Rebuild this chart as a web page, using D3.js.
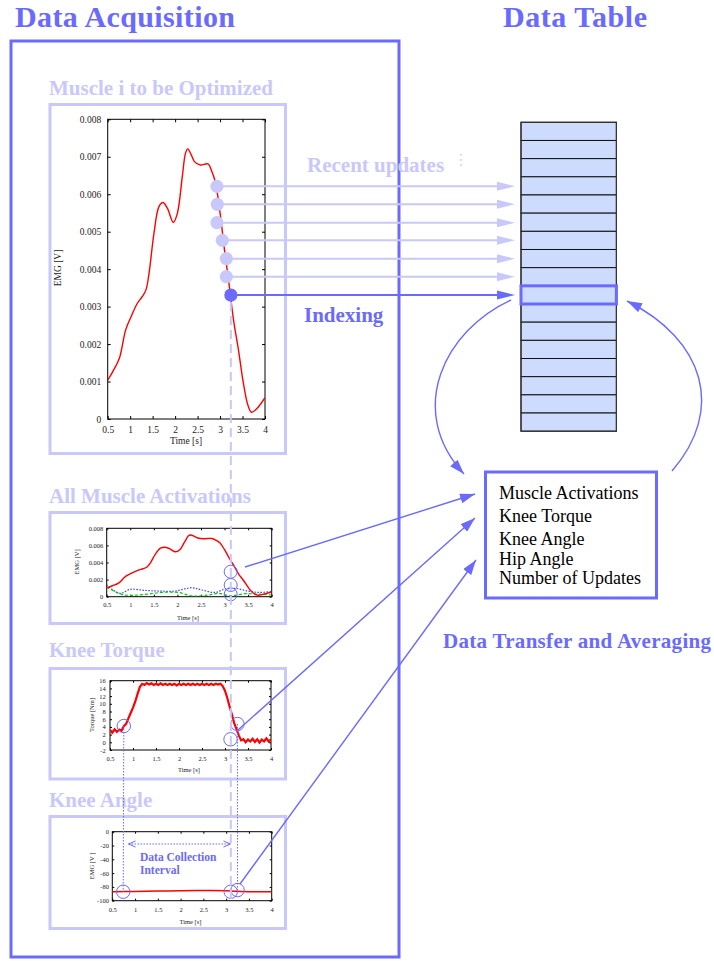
<!DOCTYPE html>
<html>
<head>
<meta charset="utf-8">
<script src="https://cdn.jsdelivr.net/npm/d3@7"></script>
<style>
  body { margin: 0; background: #fff; }
  svg { display: block; }
  text { font-family: "Liberation Serif", "Times New Roman", serif; }
</style>
</head>
<body>
<svg id="chart" width="714" height="961"></svg>
<script>
// ---- data -------------------------------------------------------------
// EMG of the muscle being optimised (time [s], EMG [V])
const emgTime = [0.5, 0.62, 0.76, 0.9, 1.02, 1.16, 1.27, 1.35, 1.42, 1.53, 1.64, 1.73, 1.83, 1.96, 2.05,
                 2.16, 2.23, 2.28, 2.36, 2.43, 2.56, 2.73, 2.82, 2.9, 3.0, 3.1, 3.2, 3.3, 3.41, 3.52,
                 3.62, 3.7, 3.82, 4.0];
const emgMain = [0.00104, 0.00128, 0.00162, 0.00238, 0.00273, 0.00309, 0.00327, 0.00344, 0.00389, 0.00496,
                 0.00567, 0.00578, 0.00562, 0.00525, 0.00549, 0.00647, 0.00709, 0.00721, 0.00705, 0.00687,
                 0.00678, 0.00681, 0.0066, 0.0063, 0.0055, 0.0045, 0.0036, 0.00264, 0.00184, 0.00095,
                 0.00037, 0.00018, 0.00028, 0.00057];
// other muscles
const emgBlueTime = [0.5, 0.78, 1.0, 1.31, 1.6, 1.95, 2.3, 2.52, 2.8, 3.01, 3.22, 3.5, 3.72, 4.0];
const emgBlue = [0.00137, 0.0004, 0.00086, 0.00074, 0.00066, 0.00066, 0.00105, 0.00078, 0.0005, 0.0009,
                 0.00098, 0.00066, 0.0005, 0.0006];
const emgGreenTime = [0.5, 0.82, 1.03, 1.31, 1.67, 2.02, 2.3, 2.66, 2.87, 3.12, 3.43, 3.72, 4.0];
const emgGreen = [0.0011, 0.00027, 0.00016, 0.00027, 0.0005, 0.0005, 0.0001, 0.0002, 0.0004, 0.0001,
                  0.00035, 0.0003, 0.0002];
// recent samples of the optimised muscle, the last one is the current one
const sampleTime = [2.93, 2.94, 2.93, 3.05, 3.14, 3.14, 3.24];
const sampleEmg = [0.00621, 0.00573, 0.00524, 0.00477, 0.00428, 0.0038, 0.00331];
// knee torque [Nm] sampled every 0.05 s from 0.5 s
const torqueStart = 0.5, torqueStep = 0.05;
const torque = [3.2, 2.5, 3.4, 2.7, 3.3, 3.0, 4.2, 4.8, 6.2, 7.6, 9.0, 10.6, 12.6, 14.4, 15.2, 14.9, 15.4,
                15.0, 15.3, 14.9, 15.2, 14.9, 15.3, 14.9, 15.2, 14.9, 15.2, 14.9, 15.2, 14.8, 15.2, 14.9,
                15.2, 14.9, 15.2, 14.9, 15.2, 14.9, 15.2, 14.9, 15.2, 14.9, 15.2, 14.9, 15.2, 14.9, 15.2,
                15.0, 15.2, 14.6, 13.4, 11.5, 9.3, 7.2, 5.0, 3.4, 1.8, 0.5, 0.8, 0.0, 0.7, 0.2, 0.9, 0.1,
                0.8, -0.1, 0.7, 0.2, 1.0, 0.2, 0.8];
// knee angle [deg]
const kneeTime = [0.5, 1.0, 1.5, 2.0, 2.5, 3.0, 3.2, 3.5, 4.0];
const kneeAngle = [-87, -86.6, -86.1, -85.6, -85.3, -85.5, -86.4, -86.9, -87];
// markers on the small plots
const actMarkTime = [3.13, 3.13, 3.13], actMarkVal = [0.00292, 0.00137, 0.00028];
const torqueMarkTime = [0.8, 3.27, 3.12], torqueMarkVal = [4.23, 4.75, 0.78];
const kneeMarkTime = [0.74, 3.1, 3.25], kneeMarkVal = [-87, -87, -84.6];
// tick labels
const timeTicks = [0.5, 1, 1.5, 2, 2.5, 3, 3.5, 4];
const emgTicks = [0, 0.001, 0.002, 0.003, 0.004, 0.005, 0.006, 0.007, 0.008];
const emgSmallTicks = [0, 0.002, 0.004, 0.006, 0.008];
const torqueTicks = [-2, 0, 2, 4, 6, 8, 10, 12, 14, 16];
const kneeTicks = [-100, -80, -60, -40, -20, 0];
// data table
const tableRowCount = 17;
const firstSampleRow = 3;
const boxItems = ["Muscle Activations", "Knee Torque", "Knee Angle", "Hip Angle", "Number of Updates"];

// ---- styles -----------------------------------------------------------
const BLUE = "#6a6aff", LIGHT = "#c8c8fa", TABLE = "#cddbff";

const svg = d3.select("#chart");
const defs = svg.append("defs");
function arrowMarker(id, color, len, wid) {
  defs.append("marker").attr("id", id).attr("viewBox", `0 0 ${len} ${wid}`)
    .attr("refX", len).attr("refY", wid / 2).attr("markerWidth", len).attr("markerHeight", wid)
    .attr("markerUnits", "userSpaceOnUse").attr("orient", "auto")
    .append("path").attr("d", `M0,0L${len},${wid / 2}L0,${wid}Z`).attr("fill", color);
}
arrowMarker("ah-blue", BLUE, 15, 10);

// ---- headings & frames --------------------------------------------------
svg.append("text").attr("x", 15).attr("y", 27).attr("font-size", 30).attr("font-weight", "bold")
  .attr("fill", BLUE).attr("textLength", 220).text("Data Acquisition");
svg.append("text").attr("x", 503).attr("y", 27).attr("font-size", 30).attr("font-weight", "bold")
  .attr("fill", BLUE).attr("textLength", 144).text("Data Table");
svg.append("rect").attr("x", 11).attr("y", 41).attr("width", 388).attr("height", 916)
  .attr("fill", "none").attr("stroke", BLUE).attr("stroke-width", 3);

const panels = [
  { title: "Muscle i to be Optimized", ty: 95, y: 104.5, h: 349 },
  { title: "All Muscle Activations", ty: 503, y: 512.5, h: 111 },
  { title: "Knee Torque", ty: 657, y: 668.5, h: 110.5 },
  { title: "Knee Angle", ty: 807, y: 816.5, h: 112 }
];
panels.forEach(p => {
  svg.append("text").attr("x", 49).attr("y", p.ty).attr("font-size", 21).attr("font-weight", "bold")
    .attr("fill", LIGHT).text(p.title);
  svg.append("rect").attr("x", 50).attr("y", p.y).attr("width", 235.5).attr("height", p.h)
    .attr("fill", "none").attr("stroke", LIGHT).attr("stroke-width", 3);
});

// ---- generic gnuplot-style plot ----------------------------------------
function plot(cfg) {
  const g = svg.append("g");
  const x = d3.scaleLinear().domain([0.5, 4]).range([cfg.l, cfg.r]);
  const y = d3.scaleLinear().domain(cfg.yDom).range([cfg.b, cfg.t]);
  const style = sel => {
    sel.select(".domain").remove();
    sel.selectAll("text").attr("font-family", "Liberation Serif, serif").attr("font-size", cfg.fs).attr("fill", "#222");
    sel.selectAll("line").attr("stroke", "#000");
  };
  const fmt = d => String(d);
  g.append("g").attr("transform", `translate(0,${cfg.b})`)
    .call(d3.axisBottom(x).tickValues(timeTicks).tickSize(-cfg.tk).tickPadding(cfg.xpad).tickFormat(fmt)).call(style);
  g.append("g").attr("transform", `translate(0,${cfg.t})`)
    .call(d3.axisTop(x).tickValues(timeTicks).tickSize(-cfg.tk).tickFormat("")).call(style);
  g.append("g").attr("transform", `translate(${cfg.l},0)`)
    .call(d3.axisLeft(y).tickValues(cfg.yTicks).tickSize(-cfg.tk).tickPadding(cfg.ypad).tickFormat(fmt)).call(style);
  g.append("g").attr("transform", `translate(${cfg.r},0)`)
    .call(d3.axisRight(y).tickValues(cfg.yTicks).tickSize(-cfg.tk).tickFormat("")).call(style);
  g.append("rect").attr("x", cfg.l).attr("y", cfg.t).attr("width", cfg.r - cfg.l).attr("height", cfg.b - cfg.t)
    .attr("fill", "none").attr("stroke", "#000").attr("stroke-width", 1);
  g.append("text").attr("transform", `translate(${cfg.ylx},${cfg.yly}) rotate(-90)`).attr("text-anchor", "middle")
    .attr("font-size", cfg.fs).attr("fill", "#222").text(cfg.ylabel);
  g.append("text").attr("x", cfg.xlx).attr("y", cfg.xly).attr("text-anchor", "middle")
    .attr("font-size", cfg.fs).attr("fill", "#222").text("Time [s]");
  const clip = "clip" + Math.round(cfg.t);
  defs.append("clipPath").attr("id", clip).append("rect")
    .attr("x", cfg.l).attr("y", cfg.t).attr("width", cfg.r - cfg.l).attr("height", cfg.b - cfg.t);
  const body = g.append("g").attr("clip-path", `url(#${clip})`);
  return { g, body, x, y };
}

function series(p, xs, ys, color, width, dash, curve) {
  const line = d3.line().x((d, i) => p.x(xs[i])).y(d => p.y(d)).curve(curve || d3.curveCatmullRom.alpha(0.5));
  p.body.append("path").attr("d", line(ys)).attr("fill", "none").attr("stroke", color)
    .attr("stroke-width", width).attr("stroke-dasharray", dash || null);
}

function rings(p, ts, vs, r) {
  p.g.selectAll(null).data(vs).join("circle")
    .attr("cx", (d, i) => p.x(ts[i])).attr("cy", d => p.y(d)).attr("r", r)
    .attr("fill", "none").attr("stroke", BLUE).attr("stroke-width", 1);
}

// ---- panel 1: optimised muscle ----------------------------------------
const p1 = plot({ l: 107.7, r: 265, t: 119.3, b: 419, yDom: [0, 0.008], yTicks: emgTicks, fs: 9.5, tk: 3,
  xpad: 7, ypad: 6.5, ylabel: "EMG [V]", ylx: 61, yly: 268, xlx: 186, xly: 444 });
series(p1, emgTime, emgMain, "#ff0000", 1.4);

// ---- panel 2: all muscle activations ------------------------------------
const p2 = plot({ l: 106.7, r: 271.7, t: 528.3, b: 596.7, yDom: [0, 0.008], yTicks: emgSmallTicks, fs: 6.5, tk: 2,
  xpad: 5.4, ypad: 3.4, ylabel: "EMG [V]", ylx: 79, yly: 562, xlx: 188, xly: 620 });
series(p2, emgBlueTime, emgBlue, "#3d3dff", 1.2, "1.5,1.5");
series(p2, emgGreenTime, emgGreen, "#00cc00", 1.2, "3,2");
series(p2, emgTime, emgMain, "#ff0000", 1.4);
rings(p2, actMarkTime, actMarkVal, 6.5);

// ---- panel 3: knee torque -----------------------------------------------
const p3 = plot({ l: 110, r: 271, t: 680.7, b: 750, yDom: [-2, 16], yTicks: torqueTicks, fs: 6.5, tk: 2,
  xpad: 6.4, ypad: 4.3, ylabel: "Torque [Nm]", ylx: 94, yly: 715, xlx: 189, xly: 771.5 });
const torqueTime = torque.map((d, i) => torqueStart + i * torqueStep);
series(p3, torqueTime, torque, "#ff0000", 2.2, null, d3.curveLinear);
rings(p3, torqueMarkTime, torqueMarkVal, 6.7);

// ---- panel 4: knee angle ----------------------------------------------
const p4 = plot({ l: 112.3, r: 271.7, t: 831.7, b: 900.7, yDom: [-100, 0], yTicks: kneeTicks, fs: 6.5, tk: 2,
  xpad: 6.4, ypad: 3.3, ylabel: "EMG [V ]", ylx: 94, yly: 866, xlx: 190.5, xly: 924 });
series(p4, kneeTime, kneeAngle, "#ff0000", 1.5);
rings(p4, kneeMarkTime, kneeMarkVal, 6.7);

// data collection interval
const ivY = 844, ivX0 = 128.5, ivX1 = 230.5;
svg.append("line").attr("x1", ivX0).attr("x2", ivX1).attr("y1", ivY).attr("y2", ivY)
  .attr("stroke", BLUE).attr("stroke-width", 1).attr("stroke-dasharray", "1.5,1.5");
svg.append("path").attr("d", `M${ivX0 + 7},${ivY - 3}L${ivX0},${ivY}L${ivX0 + 7},${ivY + 3}`)
  .attr("fill", "none").attr("stroke", BLUE).attr("stroke-width", 1);
svg.append("path").attr("d", `M${ivX1 - 7},${ivY - 3}L${ivX1},${ivY}L${ivX1 - 7},${ivY + 3}`)
  .attr("fill", "none").attr("stroke", BLUE).attr("stroke-width", 1);
svg.append("text").attr("x", 140).attr("y", 861).attr("font-size", 11.5).attr("font-weight", "bold")
  .attr("fill", BLUE).text("Data Collection");
svg.append("text").attr("x", 140).attr("y", 873.5).attr("font-size", 11.5).attr("font-weight", "bold")
  .attr("fill", BLUE).text("Interval");

// dotted guides from the torque markers down to the knee angle markers
[0, 1].forEach(k => {
  const i3 = k === 0 ? 0 : 1, i4 = k === 0 ? 0 : 2;
  svg.append("line").attr("x1", p3.x(torqueMarkTime[i3])).attr("y1", p3.y(torqueMarkVal[i3]))
    .attr("x2", p4.x(kneeMarkTime[i4])).attr("y2", p4.y(kneeMarkVal[i4]))
    .attr("stroke", BLUE).attr("stroke-width", 1).attr("stroke-dasharray", "1.5,1.5");
});

// current time guide through all panels
const nowX = p1.x(sampleTime[sampleTime.length - 1]);
svg.append("line").attr("x1", nowX).attr("x2", nowX).attr("y1", 302).attr("y2", 900)
  .attr("stroke", LIGHT).attr("stroke-width", 2).attr("stroke-dasharray", "9,5");

// ---- data table ---------------------------------------------------------
const tX = 521, tY = 122.3, tW = 95.4, rowH = 18.17;
const rowY = d3.scaleLinear().domain([0, tableRowCount]).range([tY, tY + tableRowCount * rowH]);
svg.append("g").selectAll("rect").data(d3.range(tableRowCount)).join("rect")
  .attr("x", tX).attr("y", d => rowY(d)).attr("width", tW).attr("height", rowH)
  .attr("fill", TABLE).attr("stroke", "#111").attr("stroke-width", 1);
svg.append("rect").attr("x", tX).attr("y", tY).attr("width", tW).attr("height", tableRowCount * rowH)
  .attr("fill", "none").attr("stroke", "#333").attr("stroke-width", 1.2);

// sample -> table row arrows
sampleEmg.forEach((v, i) => {
  const last = i === sampleEmg.length - 1;
  const c = last ? BLUE : LIGHT;
  const cx = p1.x(sampleTime[i]), cy = p1.y(v);
  const tip = tX - 6;
  svg.append("line").attr("x1", cx).attr("y1", cy).attr("x2", tip - 17).attr("y2", cy)
    .attr("stroke", c).attr("stroke-width", 2);
  svg.append("path").attr("d", `M${tip},${cy}L${tip - 18},${cy - 4.5}L${tip - 18},${cy + 4.5}Z`).attr("fill", c);
  svg.append("circle").attr("cx", cx).attr("cy", cy).attr("r", 6.6).attr("fill", c);
});
const curRow = firstSampleRow + sampleEmg.length - 1;
svg.append("rect").attr("x", tX).attr("y", rowY(curRow)).attr("width", tW).attr("height", rowH)
  .attr("fill", "none").attr("stroke", BLUE).attr("stroke-width", 3);

svg.append("text").attr("x", 307).attr("y", 172).attr("font-size", 21).attr("font-weight", "bold")
  .attr("fill", LIGHT).text("Recent updates");
[155, 160, 165].forEach(yy => svg.append("circle").attr("cx", 461).attr("cy", yy).attr("r", 0.9).attr("fill", LIGHT));
svg.append("text").attr("x", 304).attr("y", 322).attr("font-size", 21).attr("font-weight", "bold")
  .attr("fill", BLUE).text("Indexing");

// ---- accumulation box ----------------------------------------------------
svg.append("rect").attr("x", 485.5).attr("y", 472).attr("width", 171).attr("height", 126)
  .attr("fill", "none").attr("stroke", BLUE).attr("stroke-width", 3);
const itemY = [499, 522, 545, 565, 584];
boxItems.forEach((t, i) => svg.append("text").attr("x", 499).attr("y", itemY[i]).attr("font-size", 18)
  .attr("fill", "#000").text(t));

// table <-> box curved arrows
svg.append("path").attr("d", "M511,300C445,330 405,410 464,474").attr("fill", "none")
  .attr("stroke", BLUE).attr("stroke-width", 1.4).attr("marker-end", "url(#ah-blue)");
svg.append("path").attr("d", "M672,471C725,410 705,340 627,301").attr("fill", "none")
  .attr("stroke", BLUE).attr("stroke-width", 1.4).attr("marker-end", "url(#ah-blue)");

// transfers from the plots to the box
const transfers = [[245, 567, 475, 494], [238, 730, 475, 518], [240, 884, 476, 560]];
transfers.forEach(([x1, y1, x2, y2]) => svg.append("line").attr("x1", x1).attr("y1", y1).attr("x2", x2).attr("y2", y2)
  .attr("stroke", BLUE).attr("stroke-width", 1.4).attr("marker-end", "url(#ah-blue)"));

svg.append("text").attr("x", 443).attr("y", 648).attr("font-size", 21).attr("font-weight", "bold")
  .attr("fill", BLUE).attr("textLength", 268).text("Data Transfer and Averaging");
</script>
</body>
</html>
